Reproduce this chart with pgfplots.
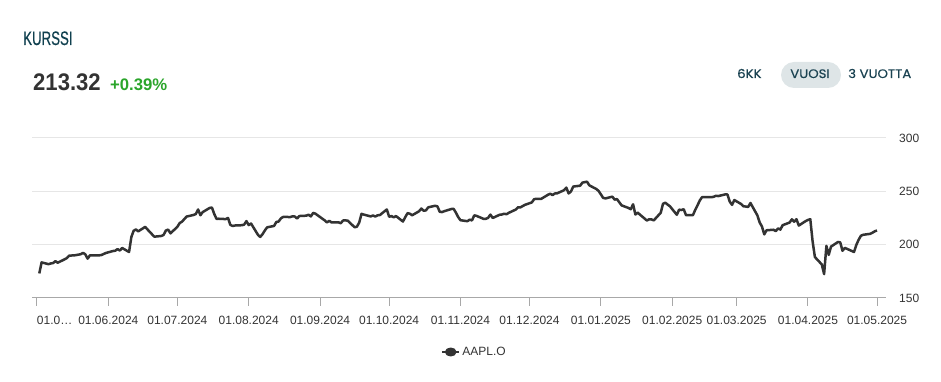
\documentclass[border=0pt]{standalone}
\usepackage{pgfplots}
\pgfplotsset{compat=1.18}
\usepackage{fontspec}
\setmainfont{Liberation Sans}
\newfontfamily\poppins[FakeBold=0.5]{Poppins}
\newfontfamily\heavy[FakeBold=0.6]{Liberation Sans}
\definecolor{linec}{HTML}{333333}
\definecolor{gridc}{HTML}{E6E6E6}
\definecolor{axisc}{HTML}{A8A8A8}
\definecolor{tealc}{HTML}{10404F}
\definecolor{btnc}{HTML}{1B4352}
\definecolor{pillc}{HTML}{DEE5E7}
\definecolor{upc}{HTML}{2BA52B}
\pgfplotstableread{
d v
1 173.03
2 183.38
5 181.71
6 182.40
7 182.74
8 184.57
9 183.05
12 186.28
13 187.43
14 189.72
15 189.84
16 189.87
19 191.04
20 192.35
21 190.90
22 186.88
23 189.98
27 189.99
28 190.29
29 191.29
30 192.25
33 194.03
34 194.35
35 195.87
36 194.48
37 196.89
40 193.12
41 207.15
42 213.07
43 214.24
44 212.49
47 216.67
48 214.29
50 209.68
51 207.49
54 208.14
55 209.07
56 213.25
57 214.10
58 210.62
61 216.75
62 220.27
63 221.55
65 226.34
68 227.82
69 228.68
70 232.98
71 227.57
72 230.54
75 234.40
76 234.82
77 228.88
78 224.18
79 224.31
82 223.96
83 225.01
84 218.54
85 217.49
86 217.96
89 218.24
90 218.80
91 222.08
92 218.36
93 219.86
96 209.27
97 207.23
98 209.82
99 213.31
100 216.24
103 217.53
104 221.27
105 221.72
106 224.72
107 226.05
110 225.89
111 226.51
112 226.40
113 224.53
114 226.84
117 227.18
118 228.03
119 226.49
120 229.79
121 229.00
125 222.77
126 220.85
127 222.38
128 220.82
131 220.91
132 220.11
133 222.66
134 222.77
135 222.50
138 216.32
139 216.79
140 220.69
141 228.87
142 228.20
145 226.47
146 227.37
147 226.37
148 227.52
149 227.79
152 233.00
153 226.21
154 226.78
155 225.67
156 226.80
159 221.69
160 225.77
161 229.54
162 229.04
163 227.55
166 231.30
167 233.85
168 231.78
169 232.15
170 235.00
173 236.48
174 235.86
175 230.76
176 230.57
177 231.41
180 233.40
181 233.67
182 230.10
183 225.91
184 222.91
187 222.01
188 223.45
189 222.72
190 227.48
191 226.96
194 224.23
195 224.23
196 225.12
197 228.22
198 225.00
201 228.02
202 228.28
203 229.00
204 228.52
205 229.87
208 232.87
209 235.06
210 234.93
212 237.33
215 239.59
216 242.65
217 243.01
218 243.04
219 242.84
222 246.75
223 247.77
224 246.49
225 247.96
226 248.13
229 251.04
230 253.48
231 248.05
232 249.79
233 254.49
236 255.27
237 258.20
239 259.02
240 255.59
243 252.20
244 250.42
246 243.85
247 243.36
250 245.00
251 242.21
252 242.70
254 236.85
257 234.40
258 233.28
259 237.87
260 228.26
261 229.98
265 222.64
266 223.83
267 223.66
268 222.78
271 229.86
272 238.26
273 239.36
274 237.59
275 236.00
278 228.01
279 232.80
280 232.47
281 233.22
282 227.63
285 227.65
286 232.62
287 236.87
288 241.53
289 244.60
293 244.47
294 244.87
295 245.83
296 245.55
299 247.10
300 247.04
301 240.36
302 237.30
303 241.84
306 238.03
307 235.93
308 235.74
309 235.33
310 239.07
313 227.48
314 220.84
315 216.98
316 209.68
317 213.49
320 214.00
321 212.69
322 215.24
323 214.10
324 218.27
327 220.73
328 223.75
329 221.53
330 223.85
331 217.90
334 222.13
335 223.19
336 223.89
337 203.19
338 188.38
341 181.46
342 172.42
343 198.85
344 190.42
345 198.15
348 202.52
349 202.14
350 194.27
351 196.98
355 193.16
356 199.74
357 204.60
358 208.37
359 209.28
362 210.14
363 211.21
364 212.50
365 213.32
}\aapl
\begin{document}
\begin{tikzpicture}[x=1pt,y=1pt]
\path[use as bounding box] (0,0) rectangle (941,382);
% header
\node[anchor=base west, inner sep=0, text=tealc, font=\heavy\fontsize{19.5}{20}\selectfont] at (23,337) {\scalebox{0.68}[1]{KURSSI}};
\node[anchor=base west, inner sep=0, text=linec, font=\fontsize{24}{26}\selectfont\bfseries] at (33,291) {\scalebox{0.92}[1]{213.32}};
\node[anchor=base west, inner sep=0, text=upc, font=\fontsize{16.7}{18}\selectfont\bfseries] at (110,291) {+0.39\%};
% buttons
\fill[pillc, rounded corners=13pt] (781,294) rectangle (841,320);
\node[anchor=base west, inner sep=0, text=btnc, font=\poppins\fontsize{12.3}{14}\selectfont] at (737,304) {\scalebox{1.08}[1]{6KK}};
\node[anchor=base, inner sep=0, text=btnc, font=\poppins\fontsize{12.3}{14}\selectfont] at (810,304) {\scalebox{1.08}[1]{VUOSI}};
\node[anchor=base west, inner sep=0, text=btnc, font=\poppins\fontsize{12.3}{14}\selectfont] at (848,304) {\scalebox{1.08}[1]{3 VUOTTA}};
\begin{axis}[
  at={(32pt,84pt)}, anchor=south west,
  scale only axis, width=854pt, height=160pt,
  xmin=-2.17, xmax=368.9, ymin=150, ymax=300,
  separate axis lines,
  axis x line*=bottom, axis y line*=right,
  x axis line style={draw=axisc, line width=1pt, -},
  y axis line style={draw=none},
  xtick={0,31,61,92,123,153,184,214,245,276,304,335,365},
  xticklabels={\makebox[0pt][l]{01.0…},01.06.2024,01.07.2024,01.08.2024,01.09.2024,01.10.2024,01.11.2024,01.12.2024,01.01.2025,01.02.2025,01.03.2025,01.04.2025,01.05.2025},
  ytick={150,200,250,300},
  tick align=outside, major tick length=8pt,
  xtick style={draw=axisc, line width=1pt},
  ytick style={draw=none},
  ymajorgrids, grid style={draw=gridc, line width=1pt},
  tick label style={font=\fontsize{12}{14}\selectfont, text=linec},
  /pgf/number format/assume math mode=true,
  xticklabel style={anchor=north, inner sep=0pt, yshift=-10pt},
  yticklabel style={anchor=west, inner sep=0pt, xshift=5pt},
  legend style={at={(0.518,-0.3375)}, anchor=center, draw=none, fill=none, font=\fontsize{12}{14}\selectfont, text=linec},
  legend image code/.code={\draw[linec, line width=2.5pt] (0pt,0pt) -- (17pt,0pt); \fill[linec] (8.5pt,0pt) ellipse (4.5pt and 3.2pt);},
]
\addplot[linec, line width=2.5pt, line join=round] table[x=d, y=v] {\aapl};
\addlegendentry{AAPL.O}
\end{axis}
\end{tikzpicture}
\end{document}
